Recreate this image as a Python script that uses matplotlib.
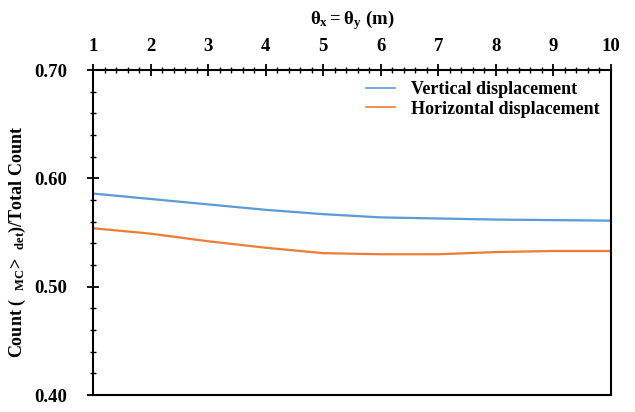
import numpy as np
import matplotlib.pyplot as plt
from matplotlib.ticker import MultipleLocator

plt.rcParams['font.family'] = 'Liberation Serif'
plt.rcParams['font.weight'] = 'bold'
plt.rcParams['mathtext.fontset'] = 'custom'
plt.rcParams['mathtext.rm'] = 'Liberation Serif:bold'
plt.rcParams['mathtext.it'] = 'Liberation Serif:bold'
plt.rcParams['mathtext.bf'] = 'Liberation Serif:bold'

# ─── Data
theta = [1, 2, 3, 4, 5, 6, 7, 8, 9, 10]
vertical = [0.586, 0.581, 0.576, 0.571, 0.567, 0.564, 0.563, 0.562, 0.5615, 0.561]
horizontal = [0.554, 0.549, 0.542, 0.536, 0.531, 0.530, 0.530, 0.532, 0.533, 0.533]

# ─── Figure
fig = plt.figure(figsize=(6.35, 4.12), dpi=100)
ax = fig.add_axes([0.1465, 0.041, 0.8155, 0.789])

ax.plot(theta, vertical, color='#5b9bd5', lw=1.6, label='Vertical displacement')
ax.plot(theta, horizontal, color='#ed7d31', lw=1.6, label='Horizontal displacement')

ax.set_xlim(1, 10)
ax.set_ylim(0.40, 0.70)

ax.xaxis.tick_top()
ax.xaxis.set_label_position('top')
ax.xaxis.set_major_locator(MultipleLocator(1))
ax.xaxis.set_minor_locator(MultipleLocator(0.2))
ax.yaxis.set_major_locator(MultipleLocator(0.1))
ax.yaxis.set_minor_locator(MultipleLocator(0.02))
ax.yaxis.set_major_formatter(plt.FormatStrFormatter('%.2f'))

ax.tick_params(which='major', direction='inout', length=9, width=1.3, labelsize=13.5)
ax.tick_params(which='minor', direction='inout', length=5, width=1.0)
ax.tick_params(axis='x', which='both', top=True, bottom=False, pad=6)
ax.tick_params(axis='y', which='both', left=True, right=False, pad=14)

for s in ax.spines.values():
    s.set_linewidth(1.5)

ax.set_xlabel(r'$\theta_x = \theta_y$ (m)', fontsize=13.5, fontweight='bold', labelpad=10)
ax.set_ylabel(r'Count (  $_{MC}$>  $_{det}$)/Total Count', fontsize=13,
              fontweight='bold')
ax.yaxis.set_label_coords(-0.125, 0.47)

leg = ax.legend(loc='upper right', frameon=False, fontsize=13, handlelength=1.6,
                handletextpad=0.9, labelspacing=0.15, borderaxespad=0.2)
for line in leg.get_lines():
    line.set_linewidth(1.2)

fig.savefig('out.png', dpi=100)
